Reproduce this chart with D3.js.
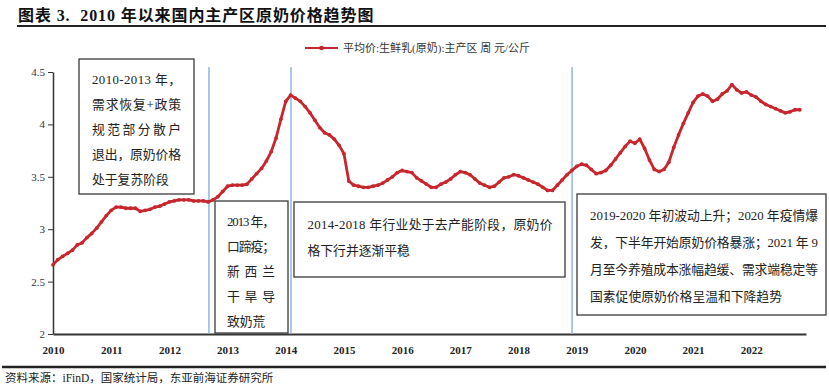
<!DOCTYPE html>
<html>
<head>
<meta charset="utf-8">
<script src="https://cdn.jsdelivr.net/npm/d3@7.9.0/dist/d3.min.js"></script>
<style>
  html, body { margin: 0; padding: 0; background: #fff; }
  svg { display: block; }
  .serif { font-family: "Liberation Serif", "Noto Sans CJK SC", serif; }
</style>
</head>
<body>
<svg id="chart" width="829" height="392"></svg>
<script>
// --- data (monthly readings, Jan 2010 .. Nov 2022)
const startYear = 2010;
const price = [
  2.66, 2.71, 2.74, 2.77, 2.80, 2.85, 2.87, 2.92, 2.96, 3.01, 3.07, 3.13, // 2010
  3.18, 3.21, 3.21, 3.20, 3.20, 3.20, 3.17, 3.18, 3.19, 3.21, 3.22, 3.24, // 2011
  3.26, 3.27, 3.28, 3.28, 3.28, 3.27, 3.27, 3.27, 3.26, 3.28, 3.31, 3.36, // 2012
  3.41, 3.42, 3.42, 3.42, 3.43, 3.48, 3.53, 3.58, 3.65, 3.74, 3.87, 4.05, // 2013
  4.22, 4.28, 4.25, 4.22, 4.17, 4.11, 4.04, 3.97, 3.92, 3.90, 3.86, 3.80, // 2014
  3.72, 3.46, 3.42, 3.41, 3.40, 3.40, 3.41, 3.42, 3.44, 3.47, 3.50, 3.54, // 2015
  3.56, 3.55, 3.54, 3.49, 3.46, 3.43, 3.40, 3.40, 3.43, 3.45, 3.48, 3.52, // 2016
  3.55, 3.54, 3.52, 3.48, 3.44, 3.42, 3.40, 3.41, 3.45, 3.49, 3.50, 3.52, // 2017
  3.51, 3.49, 3.47, 3.45, 3.43, 3.40, 3.37, 3.37, 3.42, 3.47, 3.52, 3.56, // 2018
  3.60, 3.62, 3.61, 3.57, 3.53, 3.54, 3.56, 3.61, 3.67, 3.73, 3.79, 3.84, // 2019
  3.82, 3.86, 3.77, 3.66, 3.57, 3.55, 3.57, 3.64, 3.78, 3.90, 4.01, 4.11, // 2020
  4.21, 4.27, 4.29, 4.27, 4.22, 4.24, 4.29, 4.32, 4.38, 4.33, 4.30, 4.31, // 2021
  4.28, 4.26, 4.22, 4.19, 4.17, 4.15, 4.13, 4.11, 4.12, 4.14, 4.14        // 2022
];
const yearLabels = [2010, 2011, 2012, 2013, 2014, 2015, 2016, 2017, 2018, 2019, 2020, 2021, 2022];
const yTicks = [2, 2.5, 3, 3.5, 4, 4.5];
const phaseBreaks = [2012.68, 2014.09, 2018.92];   // blue dividers

const title = '图表 3.  2010 年以来国内主产区原奶价格趋势图';
const seriesName = '平均价:生鲜乳(原奶):主产区 周 元/公斤';
const source = '资料来源：iFinD，国家统计局，东亚前海证券研究所';

const note1 = ['2010-2013 年，', '需求恢复+政策', '规范部分散户', '退出，原奶价格', '处于复苏阶段'];
const note2 = ['2013 年，', '口蹄疫；', '新西兰', '干旱导', '致奶荒'];
const note3 = ['2014-2018 年行业处于去产能阶段，原奶价', '格下行并逐渐平稳'];
const note4 = ['2019-2020 年初波动上升；2020 年疫情爆', '发，下半年开始原奶价格暴涨；2021 年 9',
               '月至今养殖成本涨幅趋缓、需求端稳定等', '国素促使原奶价格呈温和下降趋势'];

// --- layout
const RED = '#C8262D';
const plot = { left: 53, right: 806, top: 72, bottom: 334 };
const svg = d3.select('#chart');

const x = d3.scaleLinear().domain([2010, 2022.94]).range([plot.left, plot.right]);
const y = d3.scaleLinear().domain([2, 4.5]).range([plot.bottom, plot.top]);

const series = price.map((v, i) => ({ t: startYear + i / 12, v }));

// title + rules
svg.append('text').attr('class', 'serif')
  .attr('x', 18).attr('y', 21)
  .attr('font-size', 16).attr('font-weight', 'bold').attr('letter-spacing', 0.9)
  .attr('fill', '#111').attr('xml:space', 'preserve')
  .text(title);
svg.append('line').attr('x1', 17).attr('x2', 826).attr('y1', 26).attr('y2', 26)
  .attr('stroke', '#222').attr('stroke-width', 2);
svg.append('line').attr('x1', 2).attr('x2', 826).attr('y1', 367).attr('y2', 367)
  .attr('stroke', '#222').attr('stroke-width', 2.5);
svg.append('text').attr('class', 'serif')
  .attr('x', 5).attr('y', 382).attr('font-size', 11.5).attr('fill', '#222')
  .text(source);

// legend
const lg = svg.append('g').attr('transform', 'translate(305,48)');
lg.append('line').attr('x1', 0).attr('x2', 33).attr('stroke', RED).attr('stroke-width', 2);
lg.append('circle').attr('cx', 16.5).attr('r', 2.3).attr('fill', RED);
lg.append('text').attr('class', 'serif').attr('x', 38).attr('y', 4)
  .attr('font-size', 11).attr('fill', '#333').attr('xml:space', 'preserve')
  .text(seriesName);

// axes
const yAxis = svg.append('g').attr('transform', `translate(${plot.left},0)`)
  .call(d3.axisLeft(y).tickValues(yTicks).tickSize(5).tickSizeOuter(0).tickPadding(3).tickFormat(d3.format('')));
yAxis.select('.domain').attr('stroke', '#333').attr('stroke-width', 1.5);
yAxis.selectAll('.tick line').attr('stroke', '#333');
yAxis.selectAll('text').attr('class', 'serif').attr('font-size', 11).attr('fill', '#333');

const xAxis = svg.append('g').attr('transform', `translate(0,${plot.bottom})`)
  .call(d3.axisBottom(x).tickValues(yearLabels).tickSize(0).tickSizeOuter(0).tickPadding(12).tickFormat(d3.format('d')));
xAxis.select('.domain').attr('stroke', '#333').attr('stroke-width', 2);
xAxis.selectAll('text').attr('class', 'serif').attr('font-size', 11).attr('font-weight', 'bold').attr('fill', '#222');

// phase dividers
svg.append('g').selectAll('line').data(phaseBreaks).join('line')
  .attr('x1', d => x(d)).attr('x2', d => x(d))
  .attr('y1', 67).attr('y2', plot.bottom)
  .attr('stroke', '#8FB6E0').attr('stroke-width', 1.5);

// price line + markers
const line = d3.line().x(d => x(d.t)).y(d => y(d.v));
svg.append('path').datum(series)
  .attr('d', line).attr('fill', 'none')
  .attr('stroke', RED).attr('stroke-width', 2.8).attr('stroke-linejoin', 'round');
svg.append('g').selectAll('circle').data(series).join('circle')
  .attr('cx', d => x(d.t)).attr('cy', d => y(d.v)).attr('r', 1.9).attr('fill', RED);

// annotation boxes
const boxes = [
  { lines: note1, x: 79,  y: 59,  w: 115, h: 135, tx: 92,    tw: 89,  ty: 79,  dy: 25 },
  { lines: note2, x: 215, y: 201, w: 73,  h: 132, tx: 227,   tw: 48,  ty: 221, dy: 25.2 },
  { lines: note3, x: 294, y: 202, w: 271, h: 75,  tx: 307.5, tw: 245, ty: 224, dy: 26 },
  { lines: note4, x: 577, y: 194, w: 249, h: 121, tx: 590,   tw: 228, ty: 215, dy: 27 }
];
boxes.forEach(b => {
  const g = svg.append('g');
  g.append('rect').attr('x', b.x).attr('y', b.y).attr('width', b.w).attr('height', b.h)
    .attr('fill', '#fff').attr('stroke', '#3a3a3a').attr('stroke-width', 1.3);
  g.selectAll('text').data(b.lines).join('text')
    .attr('class', 'serif')
    .attr('x', b.tx).attr('y', (d, i) => b.ty + i * b.dy + 4.5)
    .attr('font-size', 12.8).attr('fill', '#222')
    .attr('xml:space', 'preserve')
    .each(function (d, i) {
      if (i < b.lines.length - 1) {
        d3.select(this).attr('textLength', b.tw).attr('lengthAdjust', 'spacing');
      }
    })
    .text(d => d);
});
</script>
</body>
</html>
